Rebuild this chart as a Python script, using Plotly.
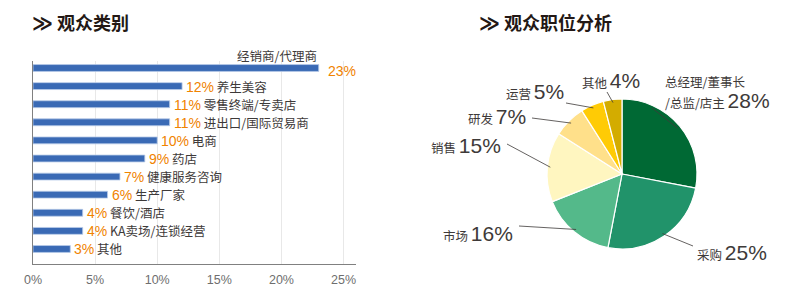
import math
import plotly.graph_objects as go

# ---------------- data ----------------
bar_categories = ["经销商/代理商", "养生美容", "零售终端/专卖店", "进出口/国际贸易商", "电商", "药店",
                  "健康服务咨询", "生产厂家", "餐饮/酒店", "KA卖场/连锁经营", "其他"]
bar_values = [23, 12, 11, 11, 10, 9, 7, 6, 4, 4, 3]
x_ticks = [0, 5, 10, 15, 20, 25]
x_tick_labels = ["0%", "5%", "10%", "15%", "20%", "25%"]

pie_labels = ["总经理/董事长/总监/店主", "采购", "市场", "销售", "研发", "运营", "其他"]
pie_values = [28, 25, 16, 15, 7, 5, 4]
pie_colors = ["#006934", "#21936A", "#54B98A", "#FFF6C0", "#FFE08A", "#FFCB05", "#D3AC00"]

title_left = "观众类别"
title_right = "观众职位分析"

# ---------------- layout helpers ----------------
W, H = 800, 292
def px(x):
    return x / W
def py(y):
    return 1 - y / H

CJK = "Noto Sans CJK SC"
DARK = "#3E3A39"
ORANGE = "#F08300"

fig = go.Figure()

fig.add_trace(go.Bar(
    x=bar_values, y=bar_categories, orientation="h",
    width=0.38,
    marker=dict(color="#3A6AB5", line=dict(color="#B9CBE8", width=0.8)),
    hoverinfo="x+y", showlegend=False, xaxis="x", yaxis="y",
))

# pie geometry
cx, cy, r = 622, 174, 75
fig.add_trace(go.Pie(
    values=pie_values, labels=pie_labels, sort=False, direction="clockwise", rotation=0,
    marker=dict(colors=pie_colors, line=dict(color="white", width=1.2)),
    textinfo="none", hoverinfo="label+percent", showlegend=False,
    domain=dict(x=[px(cx - r), px(cx + r)], y=[py(cy + r), py(cy - r)]),
))

annotations = []
shapes = []

# titles
for tx, ttl in [(30, title_left), (477, title_right)]:
    annotations.append(dict(
        xref="paper", yref="paper", x=px(tx), y=py(22), xanchor="left", yanchor="middle",
        text="<span style='font-size:20px;font-family:DejaVu Sans'>≫</span> " + ttl, showarrow=False,
        font=dict(family=CJK, size=18, color="#231815", weight="bold"),
    ))

# bar labels
for i, (cat, v) in enumerate(zip(bar_categories, bar_values)):
    if i == 0:
        annotations.append(dict(x=v, y=cat, xref="x", yref="y", xanchor="right", yanchor="middle",
                                yshift=13, text=cat, showarrow=False,
                                font=dict(family=CJK, size=12.5, color=DARK)))
        annotations.append(dict(x=v, y=cat, xref="x", yref="y", xanchor="left", yanchor="middle",
                                xshift=7, yshift=-3, text=f"{v}%", showarrow=False,
                                font=dict(family="Liberation Sans", size=14, color=ORANGE)))
    else:
        annotations.append(dict(x=v, y=cat, xref="x", yref="y", xanchor="left", yanchor="middle",
                                xshift=2,
                                text=f"<span style='color:{ORANGE};font-size:14px;font-family:Liberation Sans'>{v}%</span> {cat}",
                                showarrow=False, font=dict(family=CJK, size=12.5, color=DARK)))

# pie labels: (anchor x, anchor y, xanchor, leader end x, leader end y)
pie_label_pos = [
    (663, 100, "left", 652, 108),
    (695, 252, "left", 693, 246),
    (515, 233, "right", 519, 226),
    (503, 145, "right", 507, 144),
    (528, 116, "right", 532, 118),
    (566, 92, "right", 566, 103),
    (642, 80, "right", 607, 92),
]
total = sum(pie_values)
cum = 0
for i, (lab, v, pos) in enumerate(zip(pie_labels, pie_values, pie_label_pos)):
    mid = (cum + v / 2) / total * 2 * math.pi
    cum += v
    ax_, ay_, xa, ex, ey = pos
    shown = lab
    if i == 0:
        split = lab.index("/总监")
        annotations.append(dict(
            xref="paper", yref="paper", x=px(ax_), y=py(81), xanchor=xa, yanchor="middle",
            text=lab[:split], showarrow=False, font=dict(family=CJK, size=12.5, color=DARK),
        ))
        shown = lab[split:]
    annotations.append(dict(
        xref="paper", yref="paper", x=px(ax_), y=py(ay_), xanchor=xa, yanchor="middle", align="left",
        text=f"{shown} <span style='font-size:21px;font-family:Liberation Sans'>{v}%</span>",
        showarrow=False, font=dict(family=CJK, size=12.5, color=DARK),
    ))
    sx = cx + (r - 3) * math.sin(mid)
    sy = cy - (r - 3) * math.cos(mid)
    shapes.append(dict(type="line", xref="paper", yref="paper",
                       x0=px(sx), y0=py(sy), x1=px(ex), y1=py(ey),
                       line=dict(color="#3E3A39", width=0.8)))

fig.update_layout(
    width=W, height=H, margin=dict(l=0, r=0, t=0, b=0, autoexpand=False),
    paper_bgcolor="white", plot_bgcolor="white",
    font=dict(family=CJK, color=DARK),
    xaxis=dict(domain=[px(33), px(356)], range=[0, 26], tickvals=x_ticks, ticktext=x_tick_labels,
               showgrid=True, gridcolor="#E8E8E8", gridwidth=1, zeroline=False,
               showline=True, linecolor="#808080", linewidth=1.2, ticks="",
               tickfont=dict(family="Liberation Sans", size=12.5, color="#6E6E6E"),
               ticklabelstandoff=4, fixedrange=True, automargin=False),
    yaxis=dict(domain=[py(264), py(61)], type="category", categoryorder="array",
               categoryarray=bar_categories, range=[10.83, -0.387], autorange=False,
               showticklabels=False, showgrid=False, zeroline=False,
               showline=True, linecolor="#808080", linewidth=1.2, ticks="", fixedrange=True,
               automargin=False),
    annotations=annotations, shapes=shapes,
)

fig.write_html("out.html", post_script="document.body.style.margin='0';")
